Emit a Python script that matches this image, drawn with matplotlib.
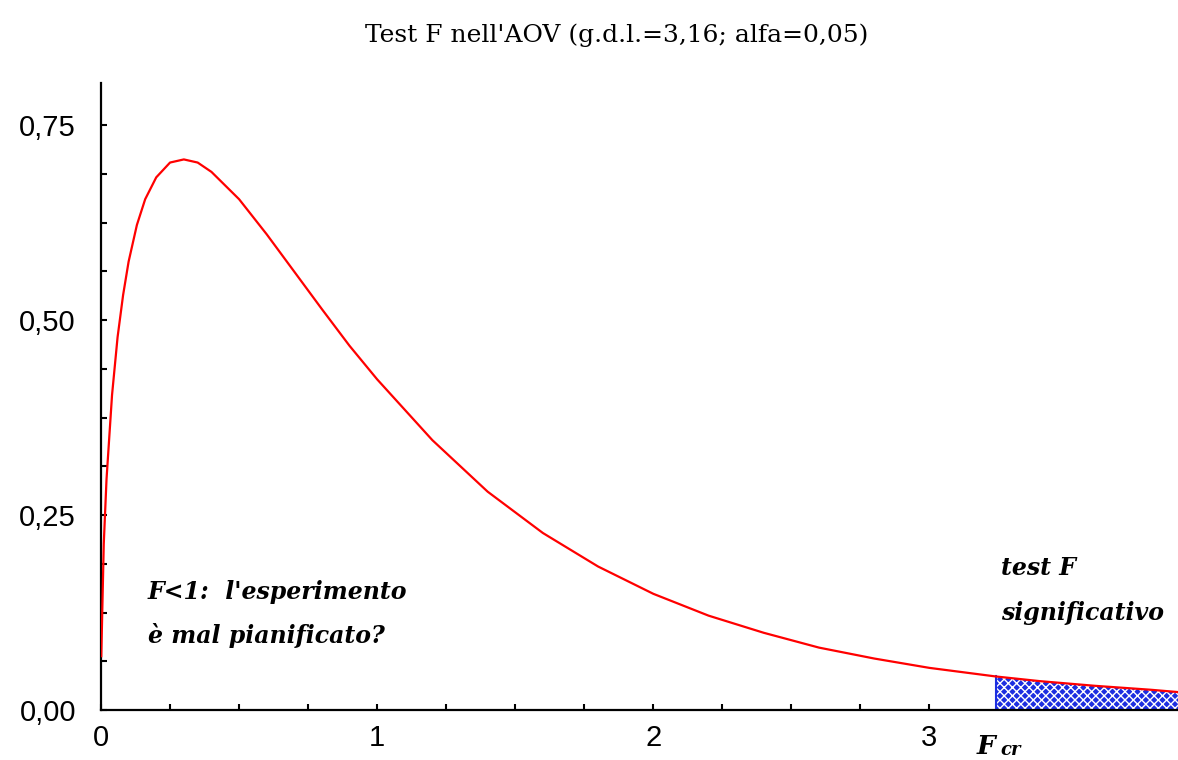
import matplotlib
matplotlib.use("Agg")
import matplotlib.pyplot as plt
import numpy as np
from matplotlib.ticker import MultipleLocator, FuncFormatter

# Density curve (F, density)
f_values = [0.001, 0.01, 0.02, 0.04, 0.06, 0.08, 0.10, 0.13, 0.16, 0.20, 0.25, 0.30,
            0.35, 0.40, 0.50, 0.60, 0.70, 0.80, 0.90, 1.0, 1.2, 1.4, 1.6, 1.8, 2.0,
            2.2, 2.4, 2.6, 2.8, 3.0, 3.24, 3.4, 3.6, 3.8, 3.9]
density = [0.069, 0.213, 0.296, 0.404, 0.478, 0.532, 0.575, 0.622, 0.655, 0.683, 0.702, 0.706,
           0.702, 0.690, 0.655, 0.610, 0.562, 0.514, 0.467, 0.424, 0.346, 0.280, 0.227, 0.184, 0.149,
           0.121, 0.099, 0.080, 0.066, 0.054, 0.043, 0.037, 0.031, 0.026, 0.023]
f_critical = 3.24
x_ticks = [0, 1, 2, 3]
y_ticks = [0.0, 0.25, 0.50, 0.75]

fig = plt.figure(figsize=(11.78, 7.6), dpi=100)
ax = fig.add_axes([101/1178, 1-710/760, 1-101/1178, (710-83)/760])

ax.plot(f_values, density, color="red", lw=1.6, zorder=3)

fx = np.array(f_values)
fy = np.array(density)
mask = fx >= f_critical
ax.fill_between(fx[mask], 0, fy[mask], facecolor="#1c2ee0", edgecolor="white",
                hatch="xxxx", linewidth=0, zorder=2)
ax.plot([f_critical, f_critical], [0, density[f_values.index(f_critical)]],
        color="#1c2ee0", lw=1.5, zorder=2)

ax.set_xlim(0, 3.9)
ax.set_ylim(0, 0.804)
for s in ["top", "right"]:
    ax.spines[s].set_visible(False)
for s in ["left", "bottom"]:
    ax.spines[s].set_linewidth(1.6)

ax.set_xticks(x_ticks)
ax.set_yticks(y_ticks)
ax.xaxis.set_minor_locator(MultipleLocator(0.25))
ax.yaxis.set_minor_locator(MultipleLocator(0.0625))
ax.yaxis.set_major_formatter(FuncFormatter(lambda v, p: f"{v:.2f}".replace(".", ",")))
ax.tick_params(which="both", direction="in", length=4, width=1.5)
ax.tick_params(labelsize=21)
for lab in ax.get_xticklabels() + ax.get_yticklabels():
    lab.set_fontfamily("Liberation Sans")
ax.tick_params(axis="y", pad=18)
ax.tick_params(axis="x", pad=10)

fig.text(617/1178, 1-35/760, "Test F nell'AOV (g.d.l.=3,16; alfa=0,05)",
         ha="center", va="center", fontsize=18, family="DejaVu Serif")

note_kw = dict(fontsize=17, style="italic", weight="bold", family="DejaVu Serif", va="center")
ax.text(0.17, 0.151, "F<1:  l'esperimento", **note_kw)
ax.text(0.17, 0.096, "è mal pianificato?", **note_kw)
ax.text(3.26, 0.182, "test F", **note_kw)
ax.text(3.26, 0.125, "significativo", **note_kw)

fig.text(977/1178, 1-746/760, "F", fontsize=19, style="italic", weight="bold",
         family="DejaVu Serif", va="center")
fig.text(1000/1178, 1-750/760, "cr", fontsize=13, style="italic", weight="bold",
         family="DejaVu Serif", va="center")

fig.savefig("out.png", dpi=100)
